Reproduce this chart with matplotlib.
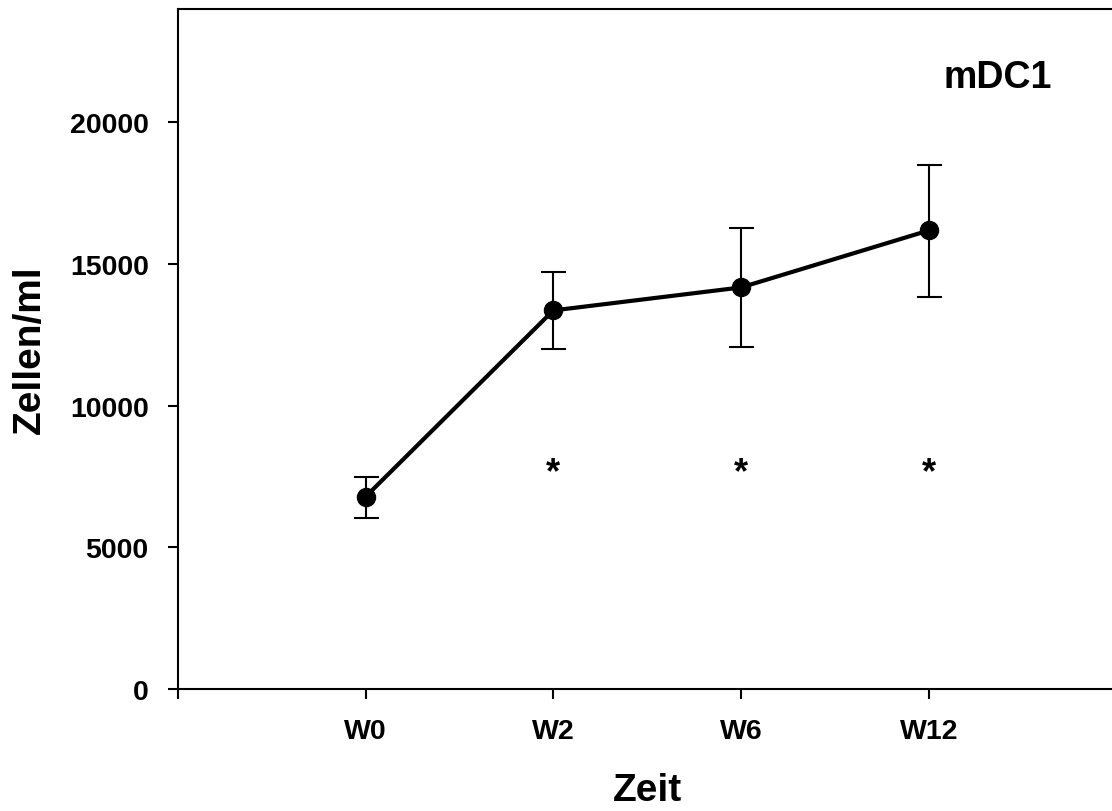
import matplotlib.pyplot as plt

plt.rcParams['font.family'] = ['Liberation Sans', 'DejaVu Sans']
plt.rcParams['font.weight'] = 'bold'

# data
weeks = ['W0', 'W2', 'W6', 'W12']
x = [1, 2, 3, 4]
mean = [6790, 13360, 14170, 16180]
upper = [7490, 14720, 16250, 18480]
lower = [6040, 12010, 12060, 13850]
star_x = [2, 3, 4]
star_y = 7650

err_lo = [m - l for m, l in zip(mean, lower)]
err_hi = [u - m for m, u in zip(mean, upper)]

fig = plt.figure(figsize=(11.12, 8.12), dpi=100)
ax = fig.add_axes([0.160, 0.150, 0.844, 0.838])

ax.errorbar(x, mean, yerr=[err_lo, err_hi], fmt='none', ecolor='black',
            elinewidth=1.5, capsize=9, capthick=1.5, zorder=2)
ax.plot(x, mean, color='black', linewidth=3, marker='o', markersize=13,
        zorder=3)

for sx in star_x:
    ax.text(sx, star_y, '*', ha='center', va='center', fontsize=26,
            fontweight='bold')

ax.text(4.08, 21600, 'mDC1', fontsize=27, fontweight='bold', va='center')

ax.set_xlim(0, 5)
ax.set_ylim(0, 24000)
ax.set_xticks([0] + x)
ax.set_xticklabels([''] + weeks)
ax.set_yticks([0, 5000, 10000, 15000, 20000])

ax.spines['right'].set_visible(False)
for s in ['left', 'bottom', 'top']:
    ax.spines[s].set_linewidth(1.5)
ax.tick_params(direction='out', length=7, width=1.5, labelsize=20.5, pad=14)

ax.set_xlabel('Zeit', fontsize=28, fontweight='bold', labelpad=20)
ax.set_ylabel('Zellen/ml', fontsize=28, fontweight='bold', labelpad=16)

fig.savefig('out.png', dpi=100)
